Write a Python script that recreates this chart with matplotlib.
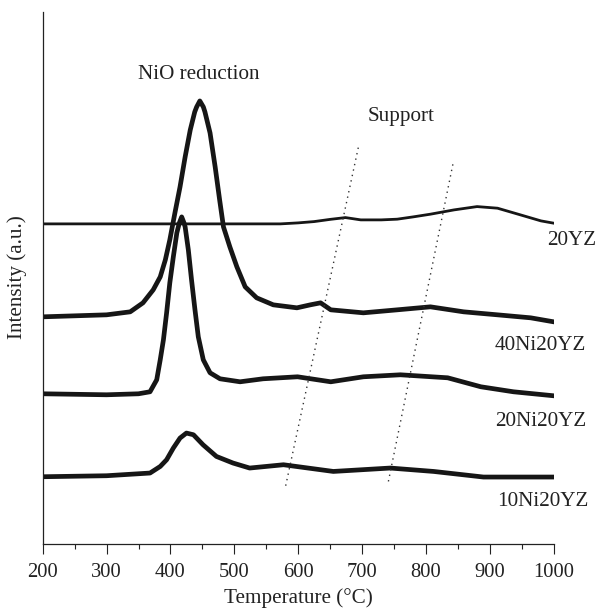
import matplotlib
matplotlib.use("Agg")
import matplotlib.pyplot as plt
from matplotlib.ticker import MultipleLocator

plt.rcParams['font.family'] = ['Liberation Serif', 'DejaVu Serif']

# ---- data (temperature in °C, intensity in a.u.) ----
t_20yz = [200, 400, 572, 600, 625, 650, 674, 698, 730, 755, 780, 807, 844, 880, 912, 948, 980, 1000]
i_20yz = [320, 320, 320, 321, 322.3, 324.5, 326.3, 324, 324, 324.7, 327, 329.7, 334, 337.3, 335.7, 329, 323, 320.7]

t_40ni = [200, 250, 300, 337, 357, 373, 384, 392, 399, 407, 415, 423, 431, 438, 441, 446, 451.5, 454, 462, 470,
          477, 483, 493, 504, 517, 535, 561, 598, 619, 635, 651, 702, 755, 807, 859, 912, 964, 1000]
i_40ni = [227, 228, 229, 232, 241, 254, 267, 284, 304, 331, 357, 387, 414, 432, 437, 443, 437, 432, 411, 377,
          344, 317, 297, 277, 257, 246, 239, 236, 239, 241, 234, 231, 234, 237, 232, 229, 226, 222]

t_20ni = [200, 300, 350, 368, 378.5, 384, 389, 394, 399, 404.5, 410, 413.9, 417.6, 421.2, 423, 428, 433, 438.4,
          443.6, 451.4, 462, 477.6, 509, 545, 599, 651, 702, 760, 834, 886, 937, 1000]
i_20ni = [150, 149, 150, 152, 164, 184, 204, 231, 261, 287, 311, 321, 327, 321, 317, 294, 264, 234,
          207, 184, 171, 165, 162, 165, 167, 162, 167, 169, 166, 157, 152, 148]

t_10ni = [200, 300, 368, 384, 394, 404.5, 415, 425, 436, 451, 472, 498, 524, 577, 655, 744, 812, 890, 1000]
i_10ni = [67, 68, 70.7, 77.3, 84, 95.7, 105.7, 110.7, 109, 99, 87.3, 80.7, 75.7, 79, 72.3, 75.7, 72.3, 66.7, 66.7]

# dotted guide lines for support reduction
guide1_t = [580.4, 694.2]
guide1_i = [58, 396.7]
guide2_t = [741.2, 843]
guide2_i = [62.3, 382.3]

labels = ["20YZ", "40Ni20YZ", "20Ni20YZ", "10Ni20YZ"]

# ---- figure ----
W, H = 597, 609
fig = plt.figure(figsize=(W / 100, H / 100), dpi=100)
ax = fig.add_axes([42.7 / W, (H - 543.7) / H, 511 / W, 531.7 / H])

line_color = '#161616'
ax.plot(t_20yz, i_20yz, color=line_color, lw=2.0, solid_joinstyle='round')
ax.plot(t_40ni, i_40ni, color=line_color, lw=3.4, solid_joinstyle='round')
ax.plot(t_20ni, i_20ni, color=line_color, lw=3.4, solid_joinstyle='round')
ax.plot(t_10ni, i_10ni, color=line_color, lw=3.4, solid_joinstyle='round')

ax.plot(guide1_t, guide1_i, color='#333333', lw=1.0, linestyle=(0, (1, 3)))
ax.plot(guide2_t, guide2_i, color='#333333', lw=1.0, linestyle=(0, (1, 3)))

ax.set_xlim(200, 1000)
ax.set_ylim(0, 532)

ax.spines['top'].set_visible(False)
ax.spines['right'].set_visible(False)
for s in ('left', 'bottom'):
    ax.spines[s].set_linewidth(0.9)
    ax.spines[s].set_color('#222222')

ax.xaxis.set_major_locator(MultipleLocator(100))
ax.xaxis.set_minor_locator(MultipleLocator(50))
ax.tick_params(axis='x', which='major', direction='out', length=7.2, width=0.8,
               pad=6.5, labelsize=14.8, colors='#222222')
ax.tick_params(axis='x', which='minor', direction='out', length=3.6, width=0.8, colors='#222222')
ax.set_yticks([])

fs = 15.2
tc = '#222222'
ax.text(349.2, 465, "NiO reduction", ha='left', va='baseline', fontsize=fs, color=tc)
ax.text(709.2, 423, "Support", ha='left', va='baseline', fontsize=fs, color=tc)
ax.text(989.5, 299, labels[0], ha='left', va='baseline', fontsize=fs, color=tc, clip_on=False)
ax.text(908.2, 194, labels[1], ha='left', va='baseline', fontsize=fs, color=tc, clip_on=False)
ax.text(908.2, 118, labels[2], ha='left', va='baseline', fontsize=fs, color=tc, clip_on=False)
ax.text(911.3, 37.3, labels[3], ha='left', va='baseline', fontsize=fs, color=tc, clip_on=False)

fig.text(298 / W, 1 - 603 / H, "Temperature (°C)", ha='center', va='baseline', fontsize=fs, color=tc)
fig.text(17 / W, 1 - 277.5 / H, "Intensity (a.u.)", ha='center', va='center', rotation=90,
         fontsize=fs, color=tc)

fig.savefig("out.png", dpi=100)
